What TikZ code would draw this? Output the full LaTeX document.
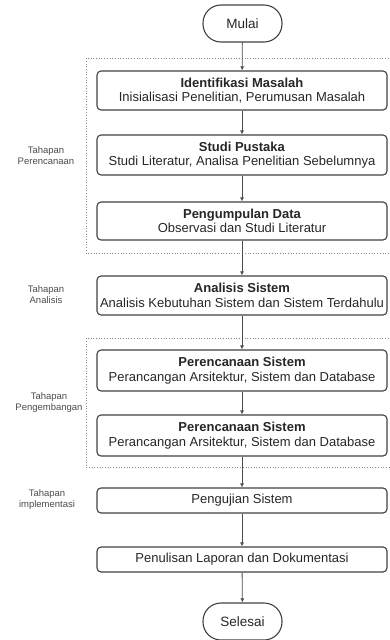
\documentclass[tikz,border=0pt]{standalone}
\usepackage{fontspec}
\setmainfont{Liberation Sans}
\usetikzlibrary{arrows.meta}

\tikzset{
	tahap/.style={draw=black!75, line width=1.1pt, rounded corners=4pt, minimum width=290pt, inner sep=0pt, align=center, text=black!85, font=\fontsize{13}{14.5}\selectfont},
	terminal/.style={draw=black!75, line width=1.1pt, rounded corners=18pt, minimum width=79pt, minimum height=37pt, inner sep=0pt, text=black!85, font=\fontsize{13.5}{14.5}\selectfont},
	label/.style={align=center, text=black!70, font=\fontsize{9.5}{11}\selectfont},
	kelompok/.style={draw=black!45, dotted, line width=0.7pt},
	alur/.style={draw=black!70, line width=0.8pt, -{Latex[length=4pt,width=4pt]}}
}

\begin{document}
\begin{tikzpicture}[x=1pt,y=-1pt]
		\useasboundingbox (0,0) rectangle (389,640);
		
		% Kotak tahapan (garis putus-putus)
		\draw[kelompok] (391,58) -- (86,58) -- (86,253) -- (391,253);
		\draw[kelompok] (391,338) -- (86,338) -- (86,467.5) -- (391,467.5);
		
		% Mulai dan selesai
		\node[terminal] (mulai) at (242.5,23.5) {Mulai};
		\node[terminal] (selesai) at (242.5,621.5) {Selesai};
		
		% Tahapan perencanaan
		\node[tahap, minimum height=39pt] (identifikasi) at (242,90.5) {\textbf{Identifikasi Masalah}\\Inisialisasi Penelitian, Perumusan Masalah};
		\node[tahap, minimum height=40pt] (studi) at (242,155) {\textbf{Studi Pustaka}\\Studi Literatur, Analisa Penelitian Sebelumnya};
		\node[tahap, minimum height=38pt] (pengumpulan) at (242,221) {\textbf{Pengumpulan Data}\\Observasi dan Studi Literatur};
		
		% Tahapan analisis
		\node[tahap, minimum height=39pt] (analisis) at (242,295.5) {\textbf{Analisis Sistem}\\Analisis Kebutuhan Sistem dan Sistem Terdahulu};
		
		% Tahapan pengembangan
		\node[tahap, minimum height=41pt] (rancang1) at (242,370.5) {\textbf{Perencanaan Sistem}\\Perancangan Arsitektur, Sistem dan Database};
		\node[tahap, minimum height=41pt] (rancang2) at (242,435.5) {\textbf{Perencanaan Sistem}\\Perancangan Arsitektur, Sistem dan Database};
		
		% Tahapan implementasi
		\node[tahap, minimum height=25pt] (pengujian) at (242,500.5) {Pengujian Sistem};
		\node[tahap, minimum height=25pt] (penulisan) at (242,559.5) {Penulisan Laporan dan Dokumentasi};
		
		% Label tahapan
		\node[label] (lblrencana) at (46,156) {Tahapan\\Perencanaan};
		\node[label] (lblanalisis) at (46,295) {Tahapan\\Analisis};
		\node[label] (lblkembang) at (49,403) {Tahapan\\Pengembangan};
		\node[label] (lblimplementasi) at (47,500) {Tahapan\\implementasi};
		
		% Alur
		\draw[alur] (mulai) -- (identifikasi);
		\draw[alur] (identifikasi) -- (studi);
		\draw[alur] (studi) -- (pengumpulan);
		\draw[alur] (pengumpulan) -- (analisis);
		\draw[alur] (analisis) -- (rancang1);
		\draw[alur] (rancang1) -- (rancang2);
		\draw[alur] (rancang2) -- (pengujian);
		\draw[alur] (pengujian) -- (penulisan);
		\draw[alur] (penulisan) -- (selesai);
		
	\end{tikzpicture}
\end{document}
